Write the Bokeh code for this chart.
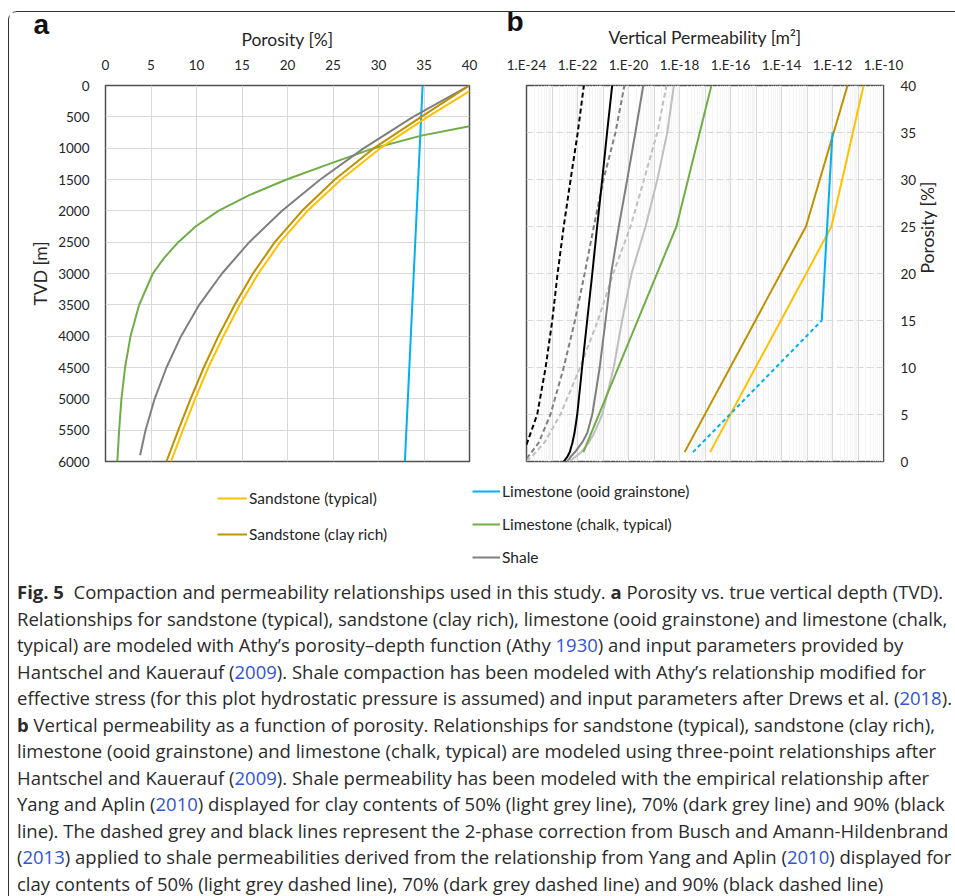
import math
from bokeh.plotting import figure
from bokeh.models import (Range1d, FixedTicker, Legend, LegendItem, Div,
                          CustomJSTickFormatter)
from bokeh.layouts import row, column
from bokeh.embed import file_html
from bokeh.resources import INLINE

FONT = "Lato"
TXT = "#262626"
NAN = float("nan")

# ---------------- Panel a : porosity [%] vs TVD [m] ----------------
a_x_ticks = [0, 5, 10, 15, 20, 25, 30, 35, 40]
a_y_ticks = [0, 500, 1000, 1500, 2000, 2500, 3000, 3500, 4000, 4500, 5000, 5500, 6000]

sand_typ_depth = [90, 500, 1000, 1500, 2000, 2500, 3000, 3500, 4000, 4500, 5000, 5500, 6000]
sand_typ_por = [40, 35.4, 30.2, 25.9, 22.2, 19.2, 16.8, 14.75, 12.95, 11.3, 9.85, 8.5, 7.2]

sand_clay_depth = [0, 500, 1000, 1500, 2000, 2500, 3000, 3500, 4000, 4500, 5000, 5500, 6000]
sand_clay_por = [40, 34.7, 29.5, 25.2, 21.6, 18.6, 16.2, 14.2, 12.4, 10.8, 9.35, 8.0, 6.7]

ooid_depth = [0, 6000]
ooid_por = [34.85, 32.9]

chalk_depth = [650, 800, 1000, 1250, 1500, 1750, 2000, 2250, 2500, 2750, 3000, 3500, 4000, 4500, 5000, 5500, 6000]
chalk_por = [40, 34.7, 29.5, 24.6, 19.9, 15.8, 12.4, 9.9, 8.0, 6.45, 5.2, 3.7, 2.75, 2.15, 1.75, 1.5, 1.3]

shale_depth = [0, 500, 1000, 1500, 2000, 2500, 3000, 3500, 4000, 4500, 5000, 5500, 5900]
shale_por = [40, 33.8, 28.4, 23.6, 19.4, 15.8, 12.8, 10.3, 8.3, 6.7, 5.4, 4.4, 3.8]

# ---------------- Panel b : log10 vertical permeability [m2] vs porosity [%] ----------------
b_x_tick_exp = [-24, -22, -20, -18, -16, -14, -12, -10]
b_y_ticks = [0, 5, 10, 15, 20, 25, 30, 35, 40]

k_sand_typ_por = [1, 25, 40]
k_sand_typ_log = [-16.8, -12.04, -10.78]
k_sand_clay_por = [1, 25, 40]
k_sand_clay_log = [-17.8, -13.04, -11.41]
k_ooid_por = [15, 35]
k_ooid_log = [-12.42, -12.0]
k_ooid_dash_por = [1, 15]
k_ooid_dash_log = [-17.47, -12.42]
k_chalk_por = [1, 25, 40]
k_chalk_log = [-21.77, -18.12, -16.75]

k_sh90_por = [0, 0.5, 1, 2, 3, 5, 10, 15, 20, 25, 30, 35, 40]
k_sh90_log = [-22.54, -22.40, -22.30, -22.20, -22.12, -22.01, -21.82, -21.62, -21.42, -21.23, -21.03, -20.84, -20.64]
k_sh70_por = [0, 0.5, 1, 2, 3, 5, 10, 15, 20, 25, 30, 35, 40]
k_sh70_log = [-22.40, -22.27, -22.10, -21.82, -21.62, -21.42, -21.13, -20.90, -20.68, -20.38, -20.05, -19.73, -19.42]
k_sh50_por = [0, 0.5, 1, 2, 3, 5, 10, 15, 20, 25, 30, 35, 40]
k_sh50_log = [-22.35, -22.08, -21.85, -21.56, -21.35, -21.03, -20.58, -20.25, -19.88, -19.33, -18.87, -18.48, -18.22]

k_sh90d_por = [1.8, 5, 10, 15, 20, 25, 30, 35, 40]
k_sh90d_log = [-24.0, -23.58, -23.25, -22.99, -22.78, -22.54, -22.27, -21.99, -21.75]
k_sh70d_por = [0.3, 1, 2, 5, 10, 15, 20, 25, 30, 35, 40]
k_sh70d_log = [-24.0, -23.8, -23.52, -23.06, -22.54, -22.10, -21.72, -21.36, -20.98, -20.51, -20.16]
k_sh50d_por = [0.05, 0.5, 2, 5, 10, 15, 20, 25, 30, 35, 40]
k_sh50d_log = [-24.0, -23.8, -23.3, -22.67, -21.9, -21.2, -20.6, -19.92, -19.39, -18.87, -18.51]

legend_a_labels = ["Sandstone (typical)", "Sandstone (clay rich)"]
legend_b_labels = ["Limestone (ooid grainstone)", "Limestone (chalk, typical)", "Shale"]
panel_letters = ["a", "b"]

YELLOW = "#FFC000"
BROWN = "#BF9000"
BLUE = "#00B0F0"
GREEN = "#70AD47"
GREY = "#7F7F7F"
LGREY = "#BFBFBF"
BLACK = "#000000"


def style_axis(ax, label_standoff, tick_standoff=10):
    ax.axis_line_color = None
    ax.major_tick_line_color = None
    ax.minor_tick_line_color = None
    ax.major_label_text_font = FONT
    ax.major_label_text_font_size = "13.5px"
    ax.major_label_text_color = TXT
    ax.major_label_standoff = tick_standoff
    ax.axis_label_text_font = FONT
    ax.axis_label_text_font_size = "17.5px"
    ax.axis_label_text_font_style = "normal"
    ax.axis_label_text_color = TXT
    ax.axis_label_standoff = label_standoff


def style_letter(p, text, offset, standoff):
    p.title.text = text
    p.title.align = "left"
    p.title.vertical_align = "top"
    p.title.offset = offset
    p.title.standoff = standoff
    p.title.text_font = "Liberation Sans"
    p.title.text_font_size = "28px"
    p.title.text_font_style = "bold"
    p.title.text_color = "#111111"


# ---------- figure a ----------
pa = figure(width=489, height=457, x_range=Range1d(0, 40), y_range=Range1d(6000, 0),
            x_axis_location="above", output_backend="svg", toolbar_location=None,
            min_border_left=96, min_border_right=29, min_border_top=73, min_border_bottom=8)
pa.xaxis.ticker = FixedTicker(ticks=a_x_ticks)
pa.yaxis.ticker = FixedTicker(ticks=a_y_ticks)
pa.xaxis.axis_label = "Porosity [%]"
pa.yaxis.axis_label = "TVD [m]"
for ax in pa.xaxis:
    style_axis(ax, 7)
for ax in pa.yaxis:
    style_axis(ax, 4)
pa.xgrid.ticker = FixedTicker(ticks=a_x_ticks)
pa.ygrid.ticker = FixedTicker(ticks=a_y_ticks)
pa.grid.grid_line_color = "#D9D9D9"
pa.grid.grid_line_width = 1
pa.outline_line_color = "#505050"
pa.outline_line_width = 1.5
style_letter(pa, panel_letters[0], -72, -32)

pa.line(ooid_por, ooid_depth, line_color=BLUE, line_width=2)
pa.line(chalk_por, chalk_depth, line_color=GREEN, line_width=2)
pa.line(shale_por, shale_depth, line_color=GREY, line_width=2)
pa.line(sand_clay_por, sand_clay_depth, line_color=BROWN, line_width=2)
pa.line(sand_typ_por, sand_typ_depth, line_color=YELLOW, line_width=2)

# ---------- figure b ----------
pb = figure(width=456, height=457, x_axis_type="log", x_range=Range1d(1e-24, 1e-10),
            y_range=Range1d(0, 40), x_axis_location="above", y_axis_location="right",
            output_backend="svg", toolbar_location=None,
            min_border_left=28, min_border_right=71, min_border_top=73, min_border_bottom=8)
b_x_ticks = [10.0 ** e for e in b_x_tick_exp]
decades = [10.0 ** e for e in range(-24, -9)]
minors = [m * 10.0 ** e for e in range(-24, -10) for m in range(2, 10)]
pb.xaxis.ticker = FixedTicker(ticks=b_x_ticks)
pb.xaxis.formatter = CustomJSTickFormatter(code="""
const e = Math.round(Math.log10(tick));
return "1.E" + (e < 0 ? "-" : "+") + String(Math.abs(e)).padStart(2, "0");
""")
pb.yaxis.ticker = FixedTicker(ticks=b_y_ticks)
pb.xaxis.axis_label = "Vertical Permeability [m\u00b2]"
pb.yaxis.axis_label = "Porosity [%]"
for ax in pb.xaxis:
    style_axis(ax, 6, 7)
for ax in pb.yaxis:
    style_axis(ax, 8, 11)
    ax.axis_label_orientation = math.pi / 2
pb.xgrid.ticker = FixedTicker(ticks=decades, minor_ticks=minors)
pb.xgrid.grid_line_color = "#D9D9D9"
pb.xgrid.minor_grid_line_color = "#F5F5F5"
pb.ygrid.ticker = FixedTicker(ticks=b_y_ticks)
pb.ygrid.grid_line_color = "#D9D9D9"
pb.ygrid.grid_line_dash = "7 3"
pb.outline_line_color = "#505050"
pb.outline_line_width = 1.5
style_letter(pb, panel_letters[1], -20, -30)


def p10(vals):
    return [10.0 ** v for v in vals]


pb.line(p10(k_sh90d_log), k_sh90d_por, line_color=BLACK, line_width=2, line_dash="5 3")
pb.line(p10(k_sh70d_log), k_sh70d_por, line_color=GREY, line_width=2, line_dash="5 3")
pb.line(p10(k_sh50d_log), k_sh50d_por, line_color=LGREY, line_width=2, line_dash="5 3")
pb.line(p10(k_sh90_log), k_sh90_por, line_color=BLACK, line_width=2)
pb.line(p10(k_sh70_log), k_sh70_por, line_color=GREY, line_width=2)
pb.line(p10(k_sh50_log), k_sh50_por, line_color=LGREY, line_width=2)
pb.line(p10(k_chalk_log), k_chalk_por, line_color=GREEN, line_width=2)
pb.line(p10(k_sand_clay_log), k_sand_clay_por, line_color=BROWN, line_width=2)
pb.line(p10(k_sand_typ_log), k_sand_typ_por, line_color=YELLOW, line_width=2)
pb.line(p10(k_ooid_log), k_ooid_por, line_color=BLUE, line_width=2)
pb.line(p10(k_ooid_dash_log), k_ooid_dash_por, line_color=BLUE, line_width=2, line_dash="4 3")

# ---------- legend strip ----------
pl = figure(width=945, height=102, x_range=Range1d(0, 1), y_range=Range1d(0, 1),
            x_axis_location=None, y_axis_location=None, output_backend="svg",
            toolbar_location=None, min_border=0)
pl.grid.visible = False
pl.outline_line_color = None
la = [pl.line([NAN], [NAN], line_color=c, line_width=2) for c in (YELLOW, BROWN)]
lb = [pl.line([NAN], [NAN], line_color=c, line_width=2) for c in (BLUE, GREEN, GREY)]


def mk_legend(labels, rends, loc, gw, sp):
    return Legend(items=[LegendItem(label=t, renderers=[r]) for t, r in zip(labels, rends)],
                  location=loc, orientation="vertical", glyph_width=gw, glyph_height=20,
                  label_height=20, spacing=sp, padding=0, margin=0, label_standoff=2,
                  border_line_color=None, background_fill_alpha=0,
                  label_text_font=FONT, label_text_font_size="15.5px", label_text_color=TXT)


pl.add_layout(mk_legend(legend_a_labels, la, (208, 27), 30, 16))
pl.add_layout(mk_legend(legend_b_labels, lb, (463, 4), 28, 13))

# ---------- caption ----------
BL = '<span style="color:#2f55d4">{}</span>'
lines = [
    '<b>Fig. 5</b>&nbsp; Compaction and permeability relationships used in this study. <b>a</b> Porosity vs. true vertical depth (TVD).',
    'Relationships for sandstone (typical), sandstone (clay rich), limestone (ooid grainstone) and limestone (chalk,',
    'typical) are modeled with Athy\u2019s porosity\u2013depth function (Athy ' + BL.format('1930') + ') and input parameters provided by',
    'Hantschel and Kauerauf (' + BL.format('2009') + '). Shale compaction has been modeled with Athy\u2019s relationship modified for',
    'effective stress (for this plot hydrostatic pressure is assumed) and input parameters after Drews et al. (' + BL.format('2018') + ').',
    '<b>b</b> Vertical permeability as a function of porosity. Relationships for sandstone (typical), sandstone (clay rich),',
    'limestone (ooid grainstone) and limestone (chalk, typical) are modeled using three-point relationships after',
    'Hantschel and Kauerauf (' + BL.format('2009') + '). Shale permeability has been modeled with the empirical relationship after',
    'Yang and Aplin (' + BL.format('2010') + ') displayed for clay contents of 50% (light grey line), 70% (dark grey line) and 90% (black',
    'line). The dashed grey and black lines represent the 2-phase correction from Busch and Amann-Hildenbrand',
    '(' + BL.format('2013') + ') applied to shale permeabilities derived from the relationship from Yang and Aplin (' + BL.format('2010') + ') displayed for',
    'clay contents of 50% (light grey dashed line), 70% (dark grey dashed line) and 90% (black dashed line)',
]
html = ('<div style="padding:3px 0 0 3px; white-space:nowrap; font-family:\'Open Sans\', sans-serif;'
        ' font-size:18.5px; line-height:26.5px; color:#2b2b2b;">' + '<br>'.join(lines) + '</div>')
cap = Div(text=html, width=945, height=322, styles={"overflow": "hidden"})

layout = column(row(pa, pb), pl, cap,
                styles={"margin": "11px 0 0 8px", "border-left": "1.5px solid #333",
                        "border-top": "1.5px solid #333", "border-top-left-radius": "9px"})

open("out.html", "w").write(file_html(layout, INLINE))
